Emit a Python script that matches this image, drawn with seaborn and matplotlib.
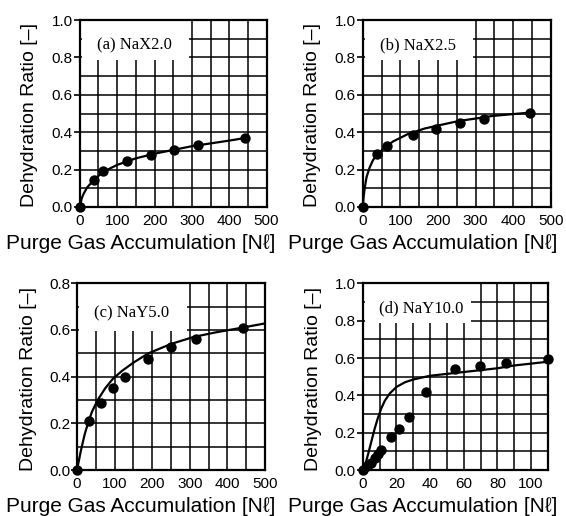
import numpy as np
import pandas as pd
import seaborn as sns
import matplotlib.pyplot as plt
from matplotlib.patches import Rectangle
from matplotlib.ticker import MultipleLocator

# measured points (purge gas accumulation [Nl], dehydration ratio [-])
a_x = [0, 38, 63, 126, 190, 253, 316, 442]
a_y = [0, 0.145, 0.19, 0.245, 0.28, 0.305, 0.33, 0.37]
b_x = [0, 38, 65, 133, 195, 258, 322, 444]
b_y = [0, 0.283, 0.325, 0.385, 0.418, 0.447, 0.47, 0.504]
c_x = [0, 33, 63, 96, 127, 190, 251, 316, 441]
c_y = [0, 0.21, 0.288, 0.35, 0.397, 0.475, 0.525, 0.562, 0.61]
d_x = [0, 2.5, 5, 7.5, 9, 11, 16.5, 21.5, 27.5, 37.5, 54.5, 69.5, 85, 110]
d_y = [0, 0.02, 0.04, 0.065, 0.085, 0.11, 0.175, 0.222, 0.284, 0.42, 0.542, 0.558, 0.575, 0.597]

# model curves
a_cx = [0, 5, 10, 20, 40, 65, 100, 150, 200, 250, 300, 350, 400, 445]
a_cy = [0, 0.045, 0.07, 0.105, 0.15, 0.19, 0.225, 0.26, 0.285, 0.305, 0.325, 0.34, 0.355, 0.37]
b_cx = [0, 2, 5, 10, 18, 27, 40, 60, 80, 120, 165, 210, 255, 300, 345, 400, 445]
b_cy = [0, 0.05, 0.1, 0.16, 0.21, 0.25, 0.285, 0.32, 0.35, 0.39, 0.42, 0.44, 0.46, 0.473, 0.487, 0.497, 0.505]
c_cx = [0, 10, 20, 30, 40, 55, 75, 95, 120, 150, 190, 250, 310, 370, 440, 500]
c_cy = [0, 0.08, 0.15, 0.205, 0.25, 0.3, 0.35, 0.39, 0.425, 0.46, 0.5, 0.54, 0.57, 0.59, 0.61, 0.628]
d_cx = [0, 1.5, 3, 5, 7, 9, 11, 13, 16, 20, 25, 30, 40, 50, 60, 70, 80, 90, 100, 110]
d_cy = [0, 0.03, 0.08, 0.15, 0.22, 0.28, 0.33, 0.37, 0.41, 0.445, 0.47, 0.485, 0.505, 0.515, 0.525,
        0.535, 0.545, 0.56, 0.57, 0.58]

labels = ['(a) NaX2.0', '(b) NaX2.5', '(c) NaY5.0', '(d) NaY10.0']
xlims = [500, 500, 500, 110]
ylims = [1.0, 1.0, 0.8, 1.0]

sns.set_theme(style='ticks')
plt.rcParams['font.family'] = ['Liberation Sans', 'DejaVu Sans']

fig = plt.figure(figsize=(5.66, 5.16), dpi=100)
rects = [[0.141, 0.599, 0.330, 0.362],
         [0.641, 0.599, 0.332, 0.362],
         [0.136, 0.089, 0.332, 0.362],
         [0.641, 0.089, 0.327, 0.362]]
xlab_pos = [0.326, 0.32, 0.34, 0.324]
ylab_pos = [-0.267, -0.267, -0.26, -0.267]

panels = [(a_x, a_y, a_cx, a_cy), (b_x, b_y, b_cx, b_cy),
          (c_x, c_y, c_cx, c_cy), (d_x, d_y, d_cx, d_cy)]

for i, (px, py, cx, cy) in enumerate(panels):
    ax = fig.add_axes(rects[i])
    pts = pd.DataFrame({'x': px, 'y': py})
    crv = pd.DataFrame({'x': cx, 'y': cy})
    sns.lineplot(data=crv, x='x', y='y', ax=ax, color='black', lw=1.6,
                 estimator=None, zorder=4)
    sns.scatterplot(data=pts, x='x', y='y', ax=ax, color='black', s=56,
                    edgecolor='black', linewidth=0, zorder=5, clip_on=False)

    ax.set_xlim(0, xlims[i])
    ax.set_ylim(0, ylims[i])
    if xlims[i] == 110:
        ax.xaxis.set_major_locator(MultipleLocator(20))
        ax.xaxis.set_minor_locator(MultipleLocator(10))
    else:
        ax.xaxis.set_major_locator(MultipleLocator(100))
        ax.xaxis.set_minor_locator(MultipleLocator(50))
    ax.yaxis.set_major_locator(MultipleLocator(0.2))
    ax.yaxis.set_minor_locator(MultipleLocator(0.1))
    ax.yaxis.set_major_formatter(plt.FormatStrFormatter('%.1f'))

    ax.set_axisbelow(True)
    ax.grid(which='both', color='black', lw=1.1)
    ax.tick_params(axis='y', which='major', direction='out', length=4, width=1.2,
                   labelsize=11, pad=1, colors='black')
    ax.tick_params(axis='y', which='minor', length=0)
    ax.tick_params(axis='x', which='both', length=0, labelsize=11, pad=5, colors='black')
    for sp in ax.spines.values():
        sp.set_visible(True)
        sp.set_linewidth(1.6)
        sp.set_color('black')

    # white box behind the panel label
    box_h = 0.25 if ylims[i] == 0.8 else 0.21
    ax.add_patch(Rectangle((0.01, 0.995 - box_h), 0.575, box_h, transform=ax.transAxes,
                           facecolor='white', edgecolor='none', zorder=1))
    ax.text(0.09, 0.866 if ylims[i] == 1.0 else 0.84, labels[i], transform=ax.transAxes,
            family='Liberation Serif', fontsize=12, va='center', ha='left', zorder=6,
            color='black')

    ax.set_xlabel('Purge Gas Accumulation [Nℓ]', fontsize=15, va='center', color='black')
    ax.xaxis.set_label_coords(xlab_pos[i], -0.195)
    ax.set_ylabel('Dehydration Ratio [–]', fontsize=14, va='center', color='black')
    ax.yaxis.set_label_coords(ylab_pos[i], 0.49)

fig.savefig('out.png', dpi=100)
